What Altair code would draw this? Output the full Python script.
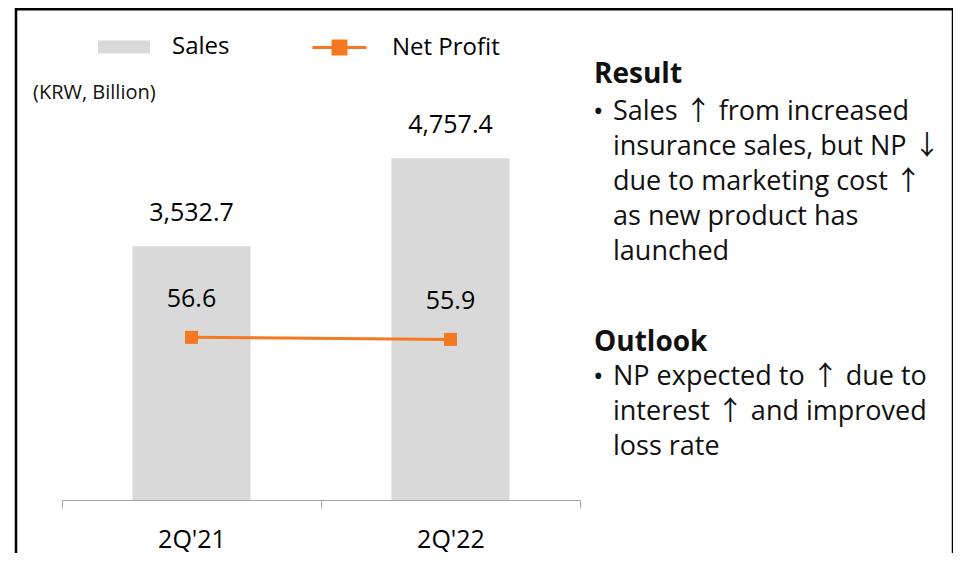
import altair as alt
import pandas as pd

# ---- data ----
quarters = ["2Q'21", "2Q'22"]
sales = [3532.7, 4757.4]
net_profit = [56.6, 55.9]
sales_labels = ["3,532.7", "4,757.4"]
np_labels = ["56.6", "55.9"]
series_names = ["Sales", "Net Profit"]
unit_note = "(KRW, Billion)"
result_title = "Result"
result_lines = ["Sales ↑  from increased", "insurance sales, but NP ↓",
                "due to marketing cost ↑", "as new product has", "launched"]
outlook_title = "Outlook"
outlook_lines = ["NP expected to ↑  due to", "interest ↑  and improved", "loss rate"]

df = pd.DataFrame({
    "quarter": quarters, "sales": sales, "np": net_profit,
    "sales_label": sales_labels, "np_label": np_labels,
    "s_series": series_names[0], "n_series": series_names[1],
})

FONT = "Open Sans, Noto Sans CJK KR, DejaVu Sans"
GRAY = "#D9D9D9"
ORANGE = "#F47920"
AXIS_GRAY = "#A6A6A6"

x_enc = alt.X(
    "quarter:N", sort=quarters,
    scale=alt.Scale(paddingInner=0, paddingOuter=0),
    axis=alt.Axis(title=None, labelAngle=0, labelFontSize=25, labelColor="black",
                  labelFont=FONT, domainColor=AXIS_GRAY, tickColor=AXIS_GRAY,
                  tickSize=8, tickBand="extent", labelPadding=19, grid=False),
)
y_sales = alt.Y("sales:Q", scale=alt.Scale(domain=[0, 6000]), axis=None)
y_np = alt.Y("np:Q", scale=alt.Scale(domain=[0, 150]), axis=None)

base = alt.Chart(df)

bars = base.mark_bar(width=alt.RelativeBandSize(0.456)).encode(
    x=x_enc, y=y_sales,
    fill=alt.Fill("s_series:N", scale=alt.Scale(domain=[series_names[0]], range=[GRAY]),
                  legend=alt.Legend(title=None, orient="none", legendX=36, legendY=-48,
                                    symbolType="M-1,-0.25H1V0.25H-1Z", symbolSize=2704,
                                    symbolStrokeWidth=0, labelFontSize=24, labelFont=FONT,
                                    labelColor="black", labelOffset=22, padding=0)),
)
sales_text = base.mark_text(dy=-33, fontSize=25, font=FONT, color="black").encode(
    x=x_enc, y=y_sales, text="sales_label:N")

line = base.mark_line(strokeWidth=3).encode(
    x=x_enc, y=y_np,
    stroke=alt.Stroke("n_series:N", scale=alt.Scale(domain=[series_names[1]], range=[ORANGE]),
                      legend=alt.Legend(title=None, orient="none", legendX=249, legendY=-50,
                                        symbolType="M-1,0H1M-0.24,-0.24H0.24V0.24H-0.24Z",
                                        symbolSize=2916, symbolStrokeWidth=3,
                                        symbolFillColor=ORANGE, labelFontSize=24,
                                        labelFont=FONT, labelColor="black",
                                        labelOffset=24, padding=0)),
)
points = base.mark_point(shape="square", filled=True, size=170, opacity=1, color=ORANGE).encode(
    x=x_enc, y=y_np)
np_text = base.mark_text(dy=-38, fontSize=25, font=FONT, color="black").encode(
    x=x_enc, y=y_np, text="np_label:N")

one = alt.Data(values=[{}])
border = alt.Chart(one).mark_rect(fill=None, stroke="black", strokeWidth=2.5).encode(
    x=alt.value(-46), x2=alt.value(891), y=alt.value(-59.7), y2=alt.value(560))

def txt(s, x, y, size, weight="normal", baseline="middle"):
    return alt.Chart(one).mark_text(
        text=s, align="left", baseline=baseline, fontSize=size, fontWeight=weight,
        font=FONT, color="#111111", lineBreak="\n", lineHeight=35,
    ).encode(x=alt.value(x), y=alt.value(y))

note = txt(unit_note, -29, 24, 20)
r_title = txt(result_title, 532, 6, 28, "bold")
r_bullet = txt("•", 531, 44, 28)
r_body = txt("\n".join(result_lines), 551, 30, 27, baseline="top")
o_title = txt(outlook_title, 532, 274, 28, "bold")
o_bullet = txt("•", 531, 309, 28)
o_body = txt("\n".join(outlook_lines), 551, 295, 27, baseline="top")

chart = alt.layer(
    bars, sales_text, line, points, np_text,
    border, note, r_title, r_bullet, r_body, o_title, o_bullet, o_body,
).resolve_scale(y="independent").properties(
    width=518, height=431,
    autosize=alt.AutoSizeParams(type="none"),
    padding={"left": 54, "top": 61, "right": 373, "bottom": 53},
).configure_view(stroke=None)

chart.save("out.html", embed_options={"renderer": "svg", "actions": False})
